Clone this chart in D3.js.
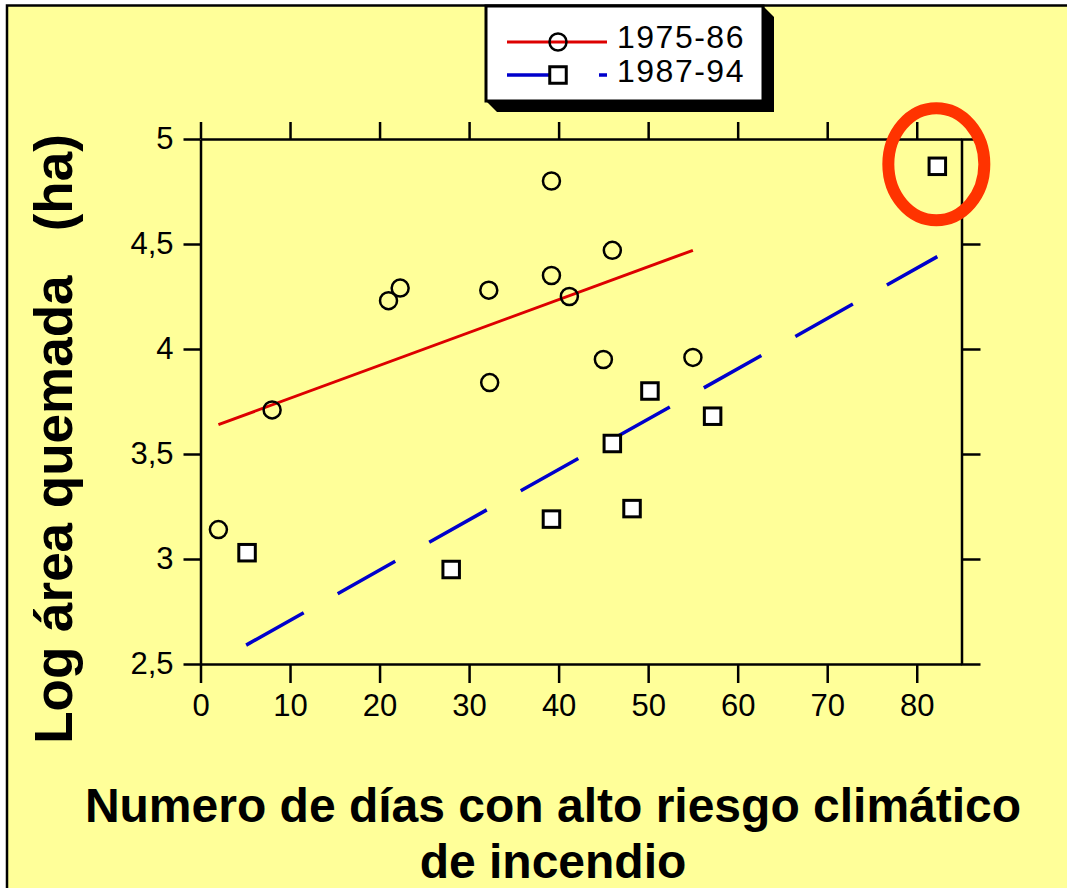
<!DOCTYPE html>
<meta charset="utf-8">
<title>Log área quemada vs días de alto riesgo</title>
<style>
body { margin: 0; background: #ffffff; }
svg text { font-family: "Liberation Sans", Arial, Helvetica, sans-serif; }
.axis path, .axis line { stroke: #000; stroke-width: 2.5px; }
.axis text { font-size: 31px; fill: #000; }
</style>

<svg width="1067" height="888"></svg>
<script src="https://d3js.org/d3.v7.min.js"></script>
<script>

// series 1975-86 (circles)
var x7586 = [2, 8, 21, 22.3, 32.2, 32.3, 39.2, 39.2, 41.2, 46, 45, 55];
var y7586 = [3.14, 3.71, 4.23, 4.29, 4.28, 3.84, 4.80, 4.35, 4.25, 4.47, 3.95, 3.96];

// series 1987-94 (squares)
var x8794 = [5.2, 28, 39.2, 46, 48.2, 50.2, 57.2, 82.3];
var y8794 = [3.03, 2.95, 3.19, 3.55, 3.24, 3.80, 3.68, 4.87];

// fitted lines, start and end points
var fit7586 = [[2, 3.64], [55, 4.47]];
var fit8794 = [[5.1, 2.59], [82.3, 4.44]];

var xTicks = [0, 10, 20, 30, 40, 50, 60, 70, 80];
var yTicks = [2.5, 3, 3.5, 4, 4.5, 5];

var seriesNames = ["1975-86", "1987-94"];

var svg = d3.select("svg"),
    width = +svg.attr("width"),
    height = +svg.attr("height");

//background panel
svg.append("rect")
    .attr("x", 7)
    .attr("y", 5.5)
    .attr("width", width + 10)
    .attr("height", height + 10)
    .attr("fill", "#ffff99")
    .attr("stroke", "#000")
    .attr("stroke-width", 2.5);

var x = d3.scaleLinear().domain([0, 85]).range([200.5, 961.5]);
var y = d3.scaleLinear().domain([2.5, 5]).range([664, 139]);

var comma = function(d) { return String(d).replace(".", ","); };

//axes on all four sides
svg.append("g")
    .attr("class", "axis")
    .attr("transform", "translate(0," + y(2.5) + ")")
    .call(d3.axisBottom(x).tickValues(xTicks).tickSize(19).tickSizeOuter(0).tickPadding(11));

svg.append("g")
    .attr("class", "axis")
    .attr("transform", "translate(0," + y(5) + ")")
    .call(d3.axisTop(x).tickValues(xTicks).tickSize(17).tickSizeOuter(0).tickFormat(""));

svg.append("g")
    .attr("class", "axis")
    .attr("transform", "translate(" + x(0) + ",0)")
    .call(d3.axisLeft(y).tickValues(yTicks).tickSize(17).tickSizeOuter(0).tickPadding(10).tickFormat(comma));

svg.append("g")
    .attr("class", "axis")
    .attr("transform", "translate(" + x(85) + ",0)")
    .call(d3.axisRight(y).tickValues(yTicks).tickSize(19).tickSizeOuter(0).tickFormat(""));

//regression lines
var line = d3.line()
    .x(function(d) { return x(d[0]); })
    .y(function(d) { return y(d[1]); });

svg.append("path")
    .datum(fit7586)
    .attr("d", line)
    .attr("fill", "none")
    .attr("stroke", "#dd0000")
    .attr("stroke-width", 3);

svg.append("path")
    .datum(fit8794)
    .attr("d", line)
    .attr("fill", "none")
    .attr("stroke", "#0000cc")
    .attr("stroke-width", 3.5)
    .attr("stroke-dasharray", "66,39");

//points
svg.append("g")
  .selectAll("circle")
  .data(d3.zip(x7586, y7586))
  .enter().append("circle")
    .attr("cx", function(d) { return x(d[0]); })
    .attr("cy", function(d) { return y(d[1]); })
    .attr("r", 8.5)
    .attr("fill", "none")
    .attr("stroke", "#000")
    .attr("stroke-width", 2.5);

var sq = 16.5;
svg.append("g")
  .selectAll("rect")
  .data(d3.zip(x8794, y8794))
  .enter().append("rect")
    .attr("x", function(d) { return x(d[0]) - sq / 2; })
    .attr("y", function(d) { return y(d[1]) - sq / 2; })
    .attr("width", sq)
    .attr("height", sq)
    .attr("fill", "#ffffff")
    .attr("stroke", "#000")
    .attr("stroke-width", 3);

//axis titles
svg.append("text")
    .attr("transform", "translate(72,439) rotate(-90)")
    .attr("text-anchor", "middle")
    .style("font-size", "53px")
    .style("font-weight", "bold")
    .style("white-space", "pre")
    .text("Log área quemada   (ha)");

svg.append("text")
    .attr("x", 553)
    .attr("y", 822)
    .attr("text-anchor", "middle")
    .style("font-size", "48px")
    .style("font-weight", "bold")
    .text("Numero de días con alto riesgo climático");

svg.append("text")
    .attr("x", 553)
    .attr("y", 878)
    .attr("text-anchor", "middle")
    .style("font-size", "48px")
    .style("font-weight", "bold")
    .text("de incendio");

//legend box with extruded shadow
var lx0 = 486, ly0 = 6, lx1 = 763, ly1 = 101, dep = 11;
svg.append("polygon")
    .attr("points", [[lx0, ly0], [lx1, ly0], [lx1 + dep, ly0 + dep], [lx1 + dep, ly1 + dep], [lx0 + dep, ly1 + dep], [lx0, ly1]].join(" "))
    .attr("fill", "#000");

svg.append("rect")
    .attr("x", lx0)
    .attr("y", ly0)
    .attr("width", lx1 - lx0)
    .attr("height", ly1 - ly0)
    .attr("fill", "#ffffff")
    .attr("stroke", "#000")
    .attr("stroke-width", 3);

var legend = svg.append("g");

legend.append("line")
    .attr("x1", 507).attr("x2", 607)
    .attr("y1", 42).attr("y2", 42)
    .attr("stroke", "#dd0000")
    .attr("stroke-width", 3);

legend.append("circle")
    .attr("cx", 558).attr("cy", 42).attr("r", 8.5)
    .attr("fill", "none")
    .attr("stroke", "#000")
    .attr("stroke-width", 2.5);

legend.append("line")
    .attr("x1", 507).attr("x2", 607)
    .attr("y1", 75).attr("y2", 75)
    .attr("stroke", "#0000cc")
    .attr("stroke-width", 3.5)
    .attr("stroke-dasharray", "60,32");

legend.append("rect")
    .attr("x", 558 - sq / 2).attr("y", 75 - sq / 2)
    .attr("width", sq).attr("height", sq)
    .attr("fill", "#ffffff")
    .attr("stroke", "#000")
    .attr("stroke-width", 3);

legend.selectAll("text.lab")
  .data(seriesNames)
  .enter().append("text")
    .attr("class", "lab")
    .attr("x", 617)
    .attr("y", function(d, i) { return 48 + i * 34; })
    .style("font-size", "32px")
    .style("letter-spacing", "1.5px")
    .text(function(d) { return d; });

//red ellipse highlighting the outlier
var last = x8794.length - 1;
svg.append("ellipse")
    .attr("cx", x(x8794[last]) - 1)
    .attr("cy", y(y8794[last]) - 2)
    .attr("rx", 48)
    .attr("ry", 56)
    .attr("fill", "none")
    .attr("stroke", "#ff3300")
    .attr("stroke-width", 12);

</script>
